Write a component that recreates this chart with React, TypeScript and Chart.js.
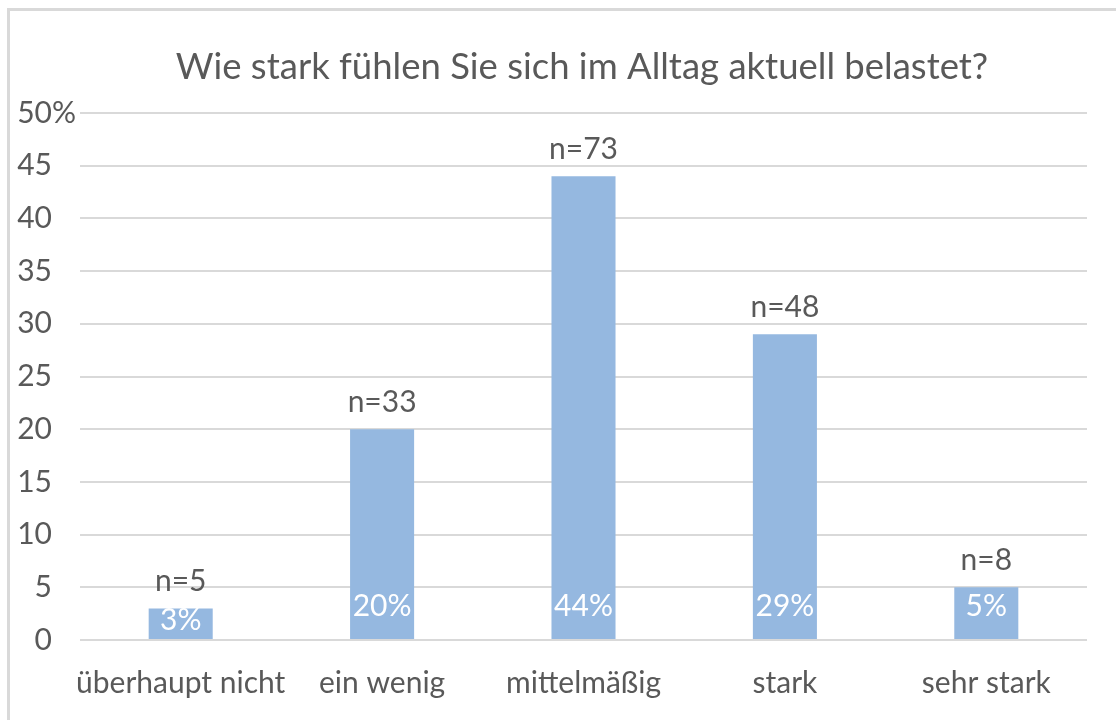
import React, { useEffect, useRef } from "react";
import { Chart, registerables } from "chart.js";

Chart.register(...registerables);

const TITLE = "Wie stark fühlen Sie sich im Alltag aktuell belastet?";
const categories = ["überhaupt nicht", "ein wenig", "mittelmäßig", "stark", "sehr stark"];
const percentValues = [3, 20, 44, 29, 5];
const counts = [5, 33, 73, 48, 8];
const yTicks = [0, 5, 10, 15, 20, 25, 30, 35, 40, 45, 50];

const FONT = "Lato, 'Open Sans', sans-serif";
const TEXT = "#595959";

const overlay = {
  id: "overlay",
  beforeDraw(chart: any) {
    const { ctx } = chart;
    ctx.save();
    ctx.fillStyle = "#ffffff";
    ctx.fillRect(0, 0, chart.width, chart.height);
    ctx.strokeStyle = "#d9d9d9";
    ctx.lineWidth = 3;
    ctx.strokeRect(8.5, 9.5, chart.width + 20, chart.height + 20);
    ctx.restore();
  },
  afterDraw(chart: any) {
    const { ctx, chartArea } = chart;
    const xs = chart.scales.x;
    const ys = chart.scales.y;
    ctx.save();
    ctx.fillStyle = TEXT;
    ctx.textBaseline = "middle";
    // title
    ctx.font = `36.5px ${FONT}`;
    ctx.textAlign = "center";
    ctx.fillText(TITLE, 582, 67);
    // y tick labels
    ctx.font = `30px ${FONT}`;
    yTicks.forEach((t, i) => {
      const y = ys.getPixelForValue(t);
      ctx.textAlign = "right";
      ctx.fillText(String(t), 52, y);
      if (i === yTicks.length - 1) {
        ctx.textAlign = "left";
        ctx.fillText("%", 52, y);
      }
    });
    // category labels
    ctx.textAlign = "center";
    categories.forEach((c, i) => {
      ctx.fillText(c, xs.getPixelForValue(i), chartArea.bottom + 43);
    });
    // n labels and percent labels
    const meta = chart.getDatasetMeta(0);
    const base = ys.getPixelForValue(0);
    meta.data.forEach((bar: any, i: number) => {
      ctx.fillStyle = TEXT;
      ctx.fillText(`n=${counts[i]}`, bar.x, bar.y - 27);
      ctx.fillStyle = "#ffffff";
      const py = Math.max(base - 34, bar.y + 12);
      ctx.fillText(`${percentValues[i]}%`, bar.x, py);
    });
    ctx.restore();
  },
};

export default function App() {
  const ref = useRef<HTMLCanvasElement>(null);
  useEffect(() => {
    if (!ref.current) return;
    const chart = new Chart(ref.current, {
      type: "bar",
      data: {
        labels: categories,
        datasets: [
          {
            data: percentValues,
            backgroundColor: "#95b8e0",
            borderWidth: 0,
            categoryPercentage: 1,
            barPercentage: 0.318,
          },
        ],
      },
      options: {
        animation: false,
        responsive: false,
        maintainAspectRatio: false,
        devicePixelRatio: 1,
        layout: { padding: { left: 80, right: 29, top: 113, bottom: 80 } },
        plugins: { legend: { display: false }, title: { display: false }, tooltip: { enabled: false } },
        scales: {
          x: {
            grid: { display: false, drawTicks: false },
            border: { display: false },
            ticks: { display: false },
          },
          y: {
            min: 0,
            max: 50,
            afterBuildTicks: (axis: any) => {
              axis.ticks = yTicks.map((v) => ({ value: v }));
            },
            grid: { color: "#d9d9d9", lineWidth: 2, drawTicks: false },
            border: { display: false },
            ticks: { display: false },
          },
        },
      },
      plugins: [overlay],
    });
    return () => chart.destroy();
  }, []);
  return (
    <div style={{ position: "fixed", left: 0, top: 0, width: 1116, height: 720 }}>
      <canvas ref={ref} width={1116} height={720} style={{ display: "block" }} />
    </div>
  );
}
